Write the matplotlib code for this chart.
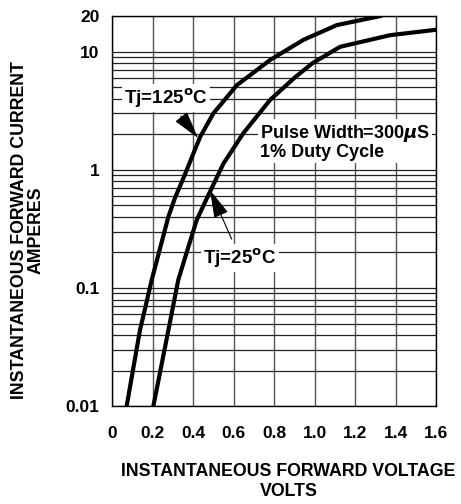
import numpy as np
import matplotlib
matplotlib.use("Agg")
import matplotlib.pyplot as plt
from matplotlib.ticker import FixedLocator, LogLocator, NullFormatter

plt.rcParams['font.family'] = ['Liberation Sans', 'DejaVu Sans']
plt.rcParams['font.weight'] = 'bold'
plt.rcParams['mathtext.fontset'] = 'dejavusans'

# forward voltage (V) vs current (A)
v_125 = [0.073, 0.138, 0.196, 0.278, 0.311, 0.356, 0.402, 0.435, 0.50,
         0.616, 0.78, 0.945, 1.11, 1.323]
i_125 = [0.0102, 0.044, 0.117, 0.40, 0.58, 0.88, 1.38, 1.9, 3.0,
         5.2, 8.5, 12.6, 16.8, 20.0]

v_25 = [0.204, 0.262, 0.327, 0.377, 0.418, 0.468, 0.55, 0.648, 0.78,
        0.90, 0.99, 1.126, 1.373, 1.595]
i_25 = [0.01, 0.0318, 0.117, 0.223, 0.376, 0.574, 1.13, 2.04, 3.9,
        6.0, 8.0, 11.0, 13.8, 15.3]

x_ticks = [0, 0.2, 0.4, 0.6, 0.8, 1.0, 1.2, 1.4, 1.6]
x_labels = ["0", "0.2", "0.4", "0.6", "0.8", "1.0", "1.2", "1.4", "1.6"]
y_ticks = [0.01, 0.1, 1, 10, 20]
y_labels = ["0.01", "0.1", "1", "10", "20"]

fig = plt.figure(figsize=(4.61, 5.04), dpi=100)
ax = fig.add_axes([0.243, 0.194, 0.703, 0.774])

ax.set_yscale('log')
ax.set_xlim(0, 1.6)
ax.set_ylim(0.01, 20)

ax.xaxis.set_major_locator(FixedLocator(x_ticks))
ax.set_xticklabels(x_labels)
ax.yaxis.set_major_locator(FixedLocator(y_ticks))
ax.set_yticklabels(y_labels)
ax.yaxis.set_minor_locator(LogLocator(base=10, subs=np.arange(2, 10)))
ax.yaxis.set_minor_formatter(NullFormatter())
ax.tick_params(which='both', length=0, labelsize=12.5, pad=9)
ax.tick_params(axis='x', pad=14)

ax.grid(True, axis='x', color='#555555', lw=1.0)
ax.grid(True, axis='y', which='both', color='#222222', lw=0.9)
for s in ax.spines.values():
    s.set_color('black')
    s.set_linewidth(1.0)

ax.plot(v_125, i_125, color='black', lw=3, solid_joinstyle='round')
ax.plot(v_25, i_25, color='black', lw=3, solid_joinstyle='round')

arrow = dict(arrowstyle='-|>,head_length=1.3,head_width=0.35',
             color='black', lw=0.8, shrinkA=4, shrinkB=0)
ax.annotate("Tj=125$^{\\mathbf{o}}$C", xy=(0.425, 1.86), xytext=(0.267, 4.07),
            fontsize=13.5, fontweight='bold', ha='center', va='center',
            bbox=dict(boxstyle='square,pad=0.12', fc='white', ec='none'),
            arrowprops=arrow)
ax.annotate("Tj=25$^{\\mathbf{o}}$C", xy=(0.484, 0.675), xytext=(0.632, 0.179),
            fontsize=13.5, fontweight='bold', ha='center', va='center',
            bbox=dict(boxstyle='square,pad=0.12', fc='white', ec='none'),
            arrowprops=arrow)
ax.text(0.731, 1.72, "Pulse Width=300$\\mu$S\n1% Duty Cycle", fontsize=13,
        fontweight='bold', ha='left', va='center', linespacing=1.05,
        bbox=dict(boxstyle='square,pad=0.1', fc='white', ec='none'))

ax.set_xlabel("INSTANTANEOUS FORWARD VOLTAGE\nVOLTS", fontsize=12.8,
              fontweight='bold', linespacing=1.25)
ax.xaxis.set_label_coords(0.545, -0.145)
ax.xaxis.label.set_va('top')
ax.set_ylabel("INSTANTANEOUS FORWARD CURRENT\nAMPERES", fontsize=12.8,
              fontweight='bold', linespacing=1.0)
ax.yaxis.set_label_coords(-0.208, 0.451)

fig.savefig("out.png", dpi=100)
